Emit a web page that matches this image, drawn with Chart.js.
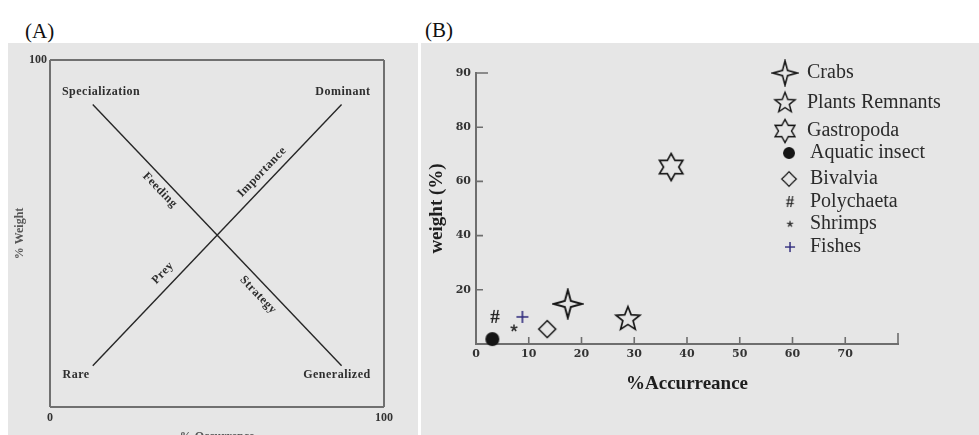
<!DOCTYPE html>
<html>
<head>
<meta charset="utf-8">
<script src="https://cdn.jsdelivr.net/npm/chart.js@4.4.1/dist/chart.umd.min.js"></script>
<style>
    html, body { margin: 0; padding: 0; background: #fff; width: 979px; height: 435px; overflow: hidden; }
    .panel { position: absolute; background: #e6e6e6; overflow: hidden; }
    #panelA { left: 8px; top: 43px; width: 410px; height: 410px; }
    #panelB { left: 421px; top: 43px; width: 558px; height: 392px; }
    .tag { position: absolute; font-family: "Liberation Serif", serif; font-size: 21px; line-height: 21px; color: #111; }
</style>
</head>
<body>
<div class="tag" style="left:25px; top:21px;">(A)</div>
<div class="tag" style="left:425px; top:20px;">(B)</div>
<div class="panel" id="panelA"><canvas id="chartA" width="410" height="410"></canvas></div>
<div class="panel" id="panelB"><canvas id="chartB" width="558" height="392"></canvas></div>

<script>
/* (A) Costello diagram */
const costelloTicks = [0, 100];
const diagX = [12.8, 87.3];
const riseY = [11.9, 87.2];   // Rare -> Dominant
const fallY = [87.2, 11.9];   // Specialization -> Generalized
const cornerLabels = ['Specialization', 'Dominant', 'Rare', 'Generalized'];
const lineLabels = ['Feeding', 'Importance', 'Prey', 'Strategy'];

/* (B) prey items */
const preyGroups = ['Crabs', 'Plants Remnants', 'Gastropoda', 'Aquatic insect',
    'Bivalvia', 'Polychaeta', 'Shrimps', 'Fishes'];
const occurrence = [17.4, 28.8, 37.0, 3.1, 13.5, 3.6, 7.2, 8.8];
const weight = [14.8, 9.2, 65.3, 1.8, 5.5, 10.0, 5.9, 10.0];
const xTickLabels = ['0', '10', '20', '30', '40', '50', '60', '70', ''];
const yTickLabels = ['', '20', '40', '60', '80', '90'];

const serif = '"Liberation Serif", "Times New Roman", serif';

// --- text placement for panel A (data coords, degrees) ---
const cornerSpots = [[15.3, 90.8], [87.7, 90.8], [7.8, 9.2], [85.9, 9.2]];
const lineSpots = [[32.9, 62.5, 46], [63.5, 67.7, -46], [33.8, 38.6, -46], [62.3, 32.3, 46]];

const costelloText = {
    id: 'costelloText',
    afterDatasetsDraw(chart) {
        const { ctx, scales: { x, y } } = chart;
        ctx.save();
        ctx.fillStyle = '#2e2e2e';
        ctx.font = 'bold 12px ' + serif;
        ctx.textAlign = 'center';
        ctx.textBaseline = 'middle';
        ctx.letterSpacing = '0.5px';
        cornerLabels.forEach((t, i) => {
            ctx.fillText(t, x.getPixelForValue(cornerSpots[i][0]), y.getPixelForValue(cornerSpots[i][1]));
        });
        lineLabels.forEach((t, i) => {
            const s = lineSpots[i];
            ctx.save();
            ctx.translate(x.getPixelForValue(s[0]), y.getPixelForValue(s[1]));
            ctx.rotate(s[2] * Math.PI / 180);
            ctx.fillText(t, 0, 0);
            ctx.restore();
        });
        ctx.restore();
    }
};

const lineStyle = { showLine: true, borderColor: '#262626', borderWidth: 1.4, pointRadius: 0, fill: false };

new Chart(document.getElementById('chartA'), {
    type: 'scatter',
    data: {
        datasets: [
            Object.assign({ data: diagX.map((v, i) => ({ x: v, y: riseY[i] })) }, lineStyle),
            Object.assign({ data: diagX.map((v, i) => ({ x: v, y: fallY[i] })) }, lineStyle)
        ]
    },
    options: {
        responsive: false,
        animation: false,
        events: [],
        layout: { padding: { top: 17, right: 34, bottom: 0, left: 0 } },
        plugins: { legend: { display: false }, tooltip: { enabled: false } },
        scales: {
            x: {
                type: 'linear', min: 0, max: 100,
                afterBuildTicks: s => { s.ticks = costelloTicks.map(v => ({ value: v })); },
                afterFit: s => { s.height = 46; },
                grid: { color: '#707070', lineWidth: 2, drawTicks: false },
                border: { display: false },
                ticks: { padding: 4, color: '#333', font: { family: serif, size: 12, weight: 'bold' } },
                title: { display: true, text: '% Occurrence', color: '#555',
                    font: { family: serif, size: 12, weight: 'bold' }, padding: { top: 0, bottom: 9 } }
            },
            y: {
                type: 'linear', min: 0, max: 100,
                afterBuildTicks: s => { s.ticks = costelloTicks.map(v => ({ value: v })); },
                afterFit: s => { s.width = 42; },
                grid: { color: '#707070', lineWidth: 2, drawTicks: false },
                border: { display: false },
                ticks: { padding: 3, color: '#333', font: { family: serif, size: 12, weight: 'bold' },
                    callback: v => (v === 0 ? '' : v) },
                title: { display: true, text: '% Weight', color: '#555',
                    font: { family: serif, size: 12, weight: 'bold' }, padding: { top: 5, bottom: 0 } }
            }
        }
    },
    plugins: [costelloText]
});

// --- marker images for panel B ---
function marker(size, draw) {
    const c = document.createElement('canvas');
    c.width = size; c.height = size;
    const g = c.getContext('2d');
    g.translate(size / 2, size / 2);
    g.strokeStyle = '#151515';
    g.fillStyle = '#151515';
    g.lineJoin = 'miter';
    draw(g);
    return c;
}
function starPath(g, n, R, r) {
    g.beginPath();
    for (let i = 0; i < 2 * n; i++) {
        const rad = i % 2 ? r : R;
        const a = i * Math.PI / n;
        g.lineTo(rad * Math.sin(a), -rad * Math.cos(a));
    }
    g.closePath();
}
const markerImages = [
    marker(32, g => { starPath(g, 4, 14, 4.2); g.lineWidth = 1.9; g.stroke(); }),
    marker(30, g => { starPath(g, 5, 12.5, 5.4); g.lineWidth = 1.7; g.stroke(); }),
    marker(32, g => { starPath(g, 6, 13.5, 7.6); g.lineWidth = 1.6; g.stroke(); }),
    marker(18, g => { g.beginPath(); g.arc(0, 0, 7, 0, Math.PI * 2); g.fill(); }),
    marker(22, g => {
        g.beginPath(); g.moveTo(0, -8.5); g.lineTo(8.5, 0); g.lineTo(0, 8.5); g.lineTo(-8.5, 0); g.closePath();
        g.lineWidth = 1.5; g.stroke();
    }),
    marker(22, g => {
        g.font = 'bold 19px ' + serif; g.textAlign = 'center'; g.textBaseline = 'middle';
        g.fillStyle = '#222'; g.fillText('#', 0, 1);
    }),
    marker(12, g => {
        g.lineWidth = 1.6; g.strokeStyle = '#333';
        for (let i = 0; i < 5; i++) {
            const a = i * 2 * Math.PI / 5;
            g.beginPath(); g.moveTo(0, 0); g.lineTo(3.6 * Math.sin(a), -3.6 * Math.cos(a)); g.stroke();
        }
    }),
    marker(16, g => {
        g.strokeStyle = '#2f2a7c'; g.lineWidth = 1.6;
        g.beginPath(); g.moveTo(-6, 0); g.lineTo(6, 0); g.moveTo(0, -6); g.lineTo(0, 6); g.stroke();
    })
];

// --- legend rows and inward ticks for panel B ---
const legendRows = [30, 60, 88, 110, 136, 159, 181, 204];
const legendSymbolX = [364, 364, 364, 368, 368, 369, 369, 369];
const legendTextX = [386, 386, 386, 389, 389, 389, 389, 389];

const preyLegend = {
    id: 'preyLegend',
    afterDraw(chart) {
        const ctx = chart.ctx;
        ctx.save();
        ctx.font = '20px ' + serif;
        ctx.fillStyle = '#2b2b2b';
        ctx.textBaseline = 'middle';
        chart.data.datasets.forEach((ds, i) => {
            const img = ds.pointStyle;
            const w = img.width * 0.85, h = img.height * 0.85;
            ctx.drawImage(img, legendSymbolX[i] - w / 2, legendRows[i] - h / 2, w, h);
            ctx.fillText(ds.label, legendTextX[i], legendRows[i]);
        });
        ctx.restore();
    }
};

const innerTicks = {
    id: 'innerTicks',
    afterDraw(chart) {
        const { ctx, chartArea, scales: { x, y } } = chart;
        ctx.save();
        ctx.strokeStyle = '#6e6e6e';
        ctx.lineWidth = 1.6;
        ctx.beginPath();
        x.ticks.forEach(t => {
            if (t.value === 0) return;
            const px = x.getPixelForValue(t.value);
            ctx.moveTo(px, chartArea.bottom);
            ctx.lineTo(px, chartArea.bottom - (t.value === x.max ? 11 : 7));
        });
        y.ticks.forEach(t => {
            if (t.value === 0) return;
            const py = y.getPixelForValue(t.value);
            ctx.moveTo(chartArea.left, py);
            ctx.lineTo(chartArea.left + (t.value === y.max ? 12 : 7), py);
        });
        ctx.stroke();
        ctx.restore();
    }
};

new Chart(document.getElementById('chartB'), {
    type: 'scatter',
    data: {
        datasets: preyGroups.map((label, i) => ({
            label: label,
            data: [{ x: occurrence[i], y: weight[i] }],
            pointStyle: markerImages[i],
            pointRadius: 10,
            clip: false
        }))
    },
    options: {
        responsive: false,
        animation: false,
        events: [],
        layout: { padding: { top: 30, right: 81, bottom: 0, left: 0 } },
        plugins: { legend: { display: false }, tooltip: { enabled: false } },
        scales: {
            x: {
                type: 'linear', min: 0, max: 80,
                afterFit: s => { s.height = 91; },
                grid: { display: false, drawTicks: false },
                border: { display: true, color: '#6e6e6e', width: 2 },
                ticks: { stepSize: 10, autoSkip: false, maxRotation: 0, padding: 4, color: '#333',
                    font: { family: '"DejaVu Serif", serif', size: 11, weight: 'bold' },
                    callback: v => xTickLabels[Math.round(v / 10)] ?? '' },
                title: { display: true, text: '%Accurreance', color: '#1e1e1e',
                    font: { family: serif, size: 19, weight: 'bold' }, padding: { top: 0, bottom: 40 } }
            },
            y: {
                type: 'linear', min: 0, max: 100,
                afterFit: s => { s.width = 55; },
                grid: { display: false, drawTicks: false },
                border: { display: true, color: '#6e6e6e', width: 2 },
                ticks: { stepSize: 20, autoSkip: false, padding: 5, color: '#333',
                    font: { family: '"DejaVu Serif", serif', size: 11, weight: 'bold' },
                    callback: v => yTickLabels[Math.round(v / 20)] ?? '' },
                title: { display: true, text: 'weight (%)', color: '#1e1e1e',
                    font: { family: serif, size: 19, weight: 'bold' }, padding: { top: 5, bottom: 0 } }
            }
        }
    },
    plugins: [innerTicks, preyLegend]
});
</script>
</body>
</html>
